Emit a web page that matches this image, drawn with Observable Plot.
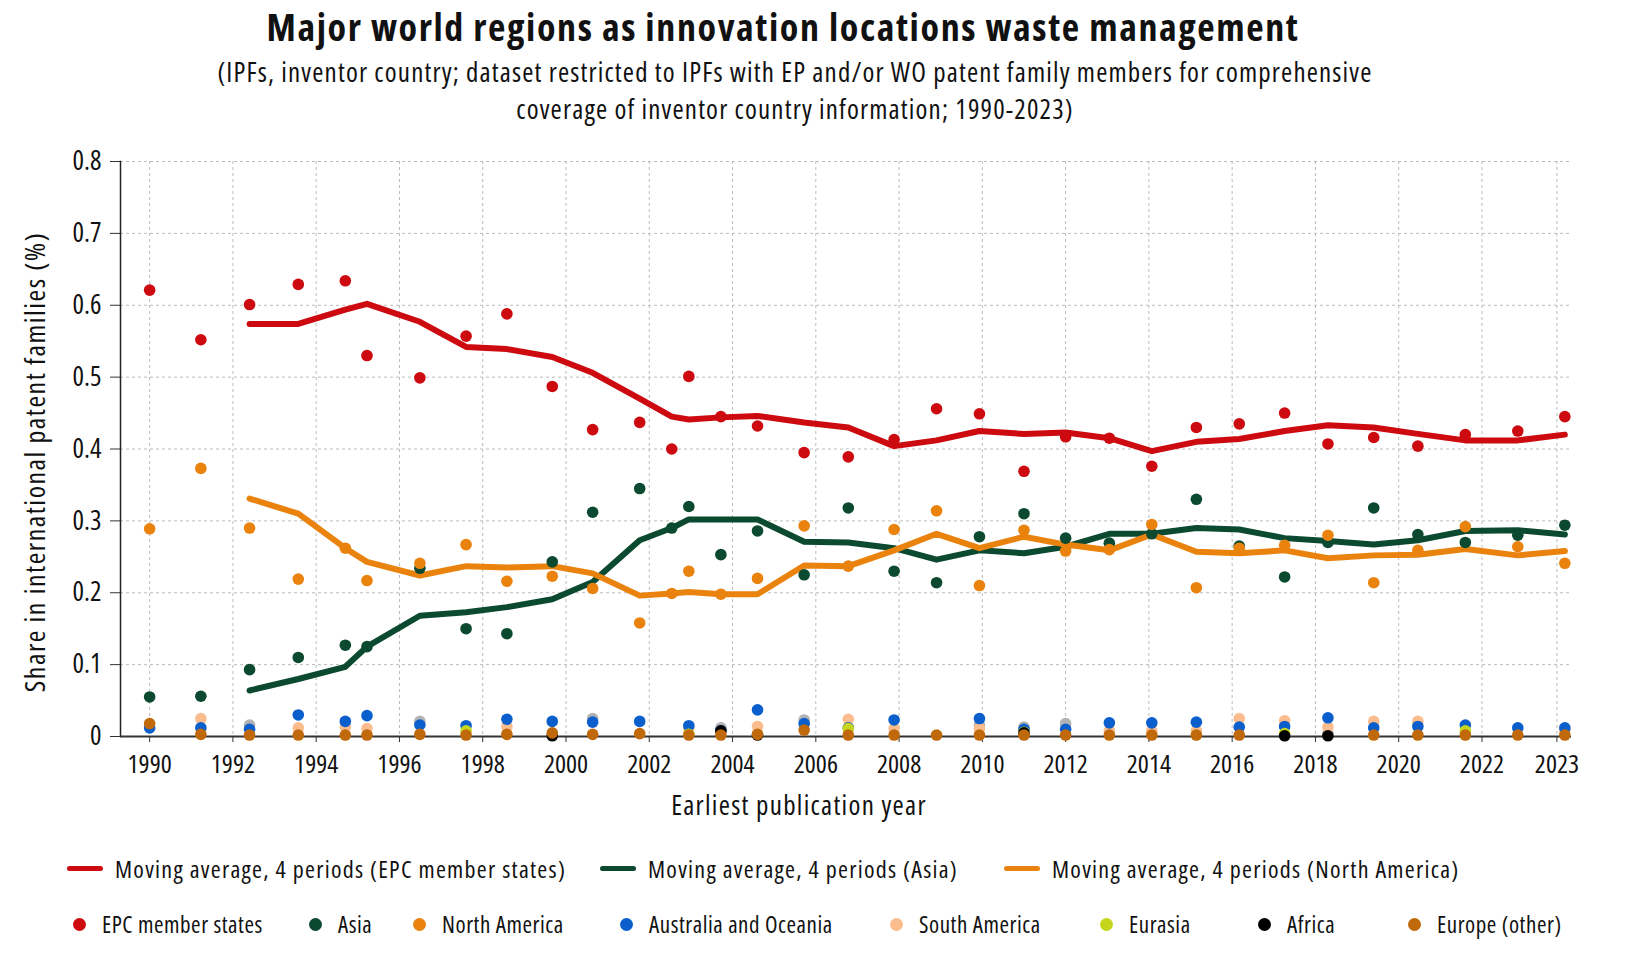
<!DOCTYPE html>
<html>
<head>
<meta charset="utf-8">
<script src="https://cdn.jsdelivr.net/npm/d3@7"></script>
<script src="https://cdn.jsdelivr.net/npm/@observablehq/plot@0.6"></script>
<style>
  body { margin: 0; background: #fff; }
  #wrap { position: relative; width: 1626px; height: 967px; font-family: "Open Sans", sans-serif; font-stretch: 75%; color: #111; }
  #title { position: absolute; left: 0; width: 1566px; top: 3px; text-align: center; font-weight: 700; font-size: 38px; line-height: 46px; letter-spacing: 1.6px; }
  #sub { position: absolute; left: 0; width: 1590px; top: 52.5px; text-align: center; font-size: 27px; line-height: 37px; letter-spacing: 1.15px; }
  #chart { position: absolute; left: 0; top: 140px; }
  #chart svg text { font-stretch: 75%; }
  #chart svg text.xlab { letter-spacing: 1.3px; }
  #chart svg text.ylab { letter-spacing: 1.5px; }
  .leg { position: absolute; display: flex; align-items: center; white-space: nowrap; }
  .leg .ln { width: 36px; height: 5px; border-radius: 3px; margin-right: 12px; }
  .leg .dt { width: 13px; height: 13px; border-radius: 50%; margin-right: 16px; }
  .row1 { font-size: 24px; top: 851px; height: 34px; letter-spacing: 1.27px; }
  .row2 { font-size: 23px; top: 907px; height: 34px; letter-spacing: 0.55px; }
</style>
</head>
<body>
<div id="wrap">
  <div id="title">Major world regions as innovation locations waste management</div>
  <div id="sub">(IPFs, inventor country; dataset restricted to IPFs with EP and/or WO patent family members for comprehensive<br>coverage of inventor country information; 1990-2023)</div>
  <div id="chart"></div>
  <div id="legend"></div>
</div>
<script>
// Earliest publication year, as placed along the axis in the picture
const years = [1990.0, 1991.23, 1992.40, 1993.57, 1994.7, 1995.22, 1996.49, 1997.6, 1998.58, 1999.67,
  2000.64, 2001.77, 2002.54, 2002.95, 2003.72, 2004.6, 2005.72, 2006.78, 2007.88, 2008.9,
  2009.93, 2011.0, 2012.0, 2013.05, 2014.07, 2015.14, 2016.17, 2017.26, 2018.3, 2019.4,
  2020.46, 2021.6, 2022.86, 2023.99];

// Shares per region
const epc = [0.621, 0.552, 0.601, 0.629, 0.634, 0.530, 0.499, 0.557, 0.588, 0.487, 0.427, 0.437, 0.400, 0.501, 0.445, 0.432, 0.395, 0.389, 0.413, 0.456, 0.449, 0.369, 0.417, 0.415, 0.376, 0.430, 0.435, 0.450, 0.407, 0.416, 0.404, 0.420, 0.425, 0.445];
const asia = [0.055, 0.056, 0.093, 0.110, 0.127, 0.125, 0.234, 0.150, 0.143, 0.243, 0.312, 0.345, 0.290, 0.320, 0.253, 0.286, 0.225, 0.318, 0.230, 0.214, 0.278, 0.310, 0.276, 0.269, 0.282, 0.330, 0.265, 0.222, 0.270, 0.318, 0.281, 0.270, 0.280, 0.294];
const northAmerica = [0.289, 0.373, 0.290, 0.219, 0.262, 0.217, 0.241, 0.267, 0.216, 0.223, 0.206, 0.158, 0.199, 0.230, 0.198, 0.220, 0.293, 0.237, 0.288, 0.314, 0.210, 0.287, 0.258, 0.260, 0.295, 0.207, 0.262, 0.266, 0.280, 0.214, 0.259, 0.292, 0.264, 0.241];
const oceania = [0.012, 0.012, 0.010, 0.030, 0.021, 0.029, 0.016, 0.015, 0.024, 0.021, 0.020, 0.021, null, 0.015, 0.008, 0.037, 0.018, 0.012, 0.023, null, 0.025, 0.010, 0.010, 0.019, 0.019, 0.020, 0.013, 0.014, 0.026, 0.012, 0.014, 0.016, 0.012, 0.012];
const southAmerica = [null, 0.025, null, 0.012, 0.013, 0.011, null, null, 0.014, null, null, null, null, 0.011, null, 0.014, null, 0.024, 0.011, null, 0.011, null, null, 0.008, 0.008, 0.008, 0.025, 0.022, 0.013, 0.021, 0.021, null, null, 0.008];
const eurasia = [null, null, null, null, null, null, null, 0.008, null, null, null, null, null, 0.003, null, null, null, 0.011, null, null, null, 0.006, null, null, null, null, null, 0.004, null, null, null, 0.008, null, null];
const africa = [null, null, null, null, null, null, null, null, null, 0.001, null, null, null, null, 0.008, 0.002, null, null, null, null, null, 0.005, null, null, null, null, null, 0.001, 0.001, null, null, null, null, null];
const europeOther = [0.018, 0.003, 0.002, 0.002, 0.002, 0.002, 0.003, 0.002, 0.003, 0.005, 0.003, 0.004, null, 0.002, 0.002, 0.003, 0.009, 0.002, 0.002, 0.002, 0.002, 0.002, 0.002, 0.002, 0.002, 0.002, 0.002, null, null, 0.002, 0.002, 0.002, 0.002, 0.002];
const unassigned = [null, null, 0.016, null, null, null, 0.021, null, null, null, 0.025, null, null, null, 0.012, null, 0.023, null, null, null, 0.016, 0.013, 0.018, null, null, null, null, null, 0.004, null, null, null, null, null];

// Moving averages, 4 periods
const epcMA = [null, null, 0.574, 0.574, 0.594, 0.602, 0.577, 0.542, 0.539, 0.528, 0.506, 0.470, 0.445, 0.441, 0.444, 0.446, 0.437, 0.430, 0.404, 0.412, 0.425, 0.421, 0.423, 0.415, 0.397, 0.410, 0.414, 0.425, 0.433, 0.430, 0.421, 0.412, 0.412, 0.420];
const asiaMA = [null, null, 0.064, 0.080, 0.097, 0.125, 0.168, 0.173, 0.180, 0.191, 0.215, 0.273, 0.290, 0.302, 0.302, 0.302, 0.271, 0.270, 0.262, 0.246, 0.259, 0.255, 0.264, 0.282, 0.282, 0.290, 0.288, 0.276, 0.272, 0.267, 0.273, 0.286, 0.287, 0.281];
const northAmericaMA = [null, null, 0.331, 0.310, 0.262, 0.243, 0.224, 0.237, 0.235, 0.237, 0.227, 0.196, 0.199, 0.201, 0.198, 0.198, 0.238, 0.237, 0.259, 0.282, 0.262, 0.278, 0.267, 0.259, 0.281, 0.257, 0.255, 0.259, 0.248, 0.252, 0.253, 0.261, 0.252, 0.258];

// Axis ticks
const xTickValues = [1990, 1992, 1994, 1996, 1998, 2000, 2002, 2004, 2006, 2008, 2010, 2012, 2014, 2016, 2018, 2020, 2022, 2023.8];
const xTickLabels = ["1990", "1992", "1994", "1996", "1998", "2000", "2002", "2004", "2006", "2008", "2010", "2012", "2014", "2016", "2018", "2020", "2022", "2023"];
const yTickValues = [0, 0.1, 0.2, 0.3, 0.4, 0.5, 0.6, 0.7, 0.8];
const yTickLabels = ["0", "0.1", "0.2", "0.3", "0.4", "0.5", "0.6", "0.7", "0.8"];

// Series names and colours
const lineNames = ["Moving average, 4 periods (EPC member states)", "Moving average, 4 periods (Asia)", "Moving average, 4 periods (North America)"];
const lineValues = [epcMA, asiaMA, northAmericaMA];
const lineColors = ["#cc0a0f", "#0b4a30", "#ea830e"];

const dotNames = ["EPC member states", "Asia", "North America", "Australia and Oceania", "South America", "Eurasia", "Africa", "Europe (other)"];
const dotValues = [epc, asia, northAmerica, oceania, southAmerica, eurasia, africa, europeOther];
const dotColors = ["#cc0a0f", "#0b4a30", "#ea830e", "#0b5fcc", "#fbbd8e", "#c5d61c", "#000000", "#c0690b"];
const drawOrder = [4, 3, 5, 6, 7, 1, 2, 0];

// Legend layout (left edge of each item, px)
const legendRow1Left = [67, 600, 1004];
const legendRow2Left = [73, 309, 413, 620, 890, 1100, 1258, 1408];

// Tables
const lineRows = [];
lineValues.forEach((vals, s) => vals.forEach((v, i) => { if (v != null) lineRows.push({series: lineNames[s], year: years[i], share: v}); }));
const dotRows = [];
unassigned.forEach((v, i) => { if (v != null) dotRows.push({series: "Unassigned", color: "#b3b3b3", year: years[i], share: v}); });
drawOrder.forEach(s => dotValues[s].forEach((v, i) => { if (v != null) dotRows.push({series: dotNames[s], color: dotColors[s], year: years[i], share: v}); }));

const xLabel = new Map(xTickValues.map((v, i) => [v, xTickLabels[i]]));
const yLabel = new Map(yTickValues.map((v, i) => [v, yTickLabels[i]]));

const chart = Plot.plot({
  width: 1626,
  height: 700,
  marginTop: 21,
  marginBottom: 104,
  marginLeft: 120,
  marginRight: 55,
  style: {fontFamily: "'Open Sans', sans-serif", fontSize: "26px", color: "#111", background: "transparent"},
  x: {domain: [1989.3, 2024.15]},
  y: {domain: [0, 0.8]},
  color: {domain: lineNames, range: lineColors},
  marks: [
    Plot.gridY(yTickValues, {stroke: "#bcbcbc", strokeOpacity: 1, strokeDasharray: "3,3"}),
    Plot.gridX(xTickValues, {stroke: "#bcbcbc", strokeOpacity: 1, strokeDasharray: "3,3"}),
    Plot.axisY(yTickValues, {tickFormat: d => yLabel.get(d), tickSize: 10, tickPadding: 9, fontSize: 27, label: null, stroke: "#333"}),
    Plot.axisX(xTickValues, {tickFormat: d => xLabel.get(d), tickSize: 6, tickPadding: 12, fontSize: 26, label: null, stroke: "#333"}),
    Plot.frame({anchor: "left", stroke: "#222", strokeWidth: 1.5}),
    Plot.ruleY([0], {stroke: "#333", strokeWidth: 2}),
    Plot.line(lineRows, {x: "year", y: "share", z: "series", stroke: "series", strokeWidth: 6, strokeLinejoin: "round", strokeLinecap: "round"}),
    Plot.dot(dotRows, {x: "year", y: "share", fill: "color", r: 5.8, stroke: null}),
    Plot.text(["Earliest publication year"], {frameAnchor: "bottom", dx: -47, dy: 70, fontSize: 27, lineAnchor: "middle", fill: "#111"}),
    Plot.text(["Share in international patent families (%)"], {frameAnchor: "left", rotate: -90, dx: -84, dy: 13, fontSize: 28, lineAnchor: "middle", textAnchor: "middle", fill: "#111"})
  ]
});
document.getElementById("chart").appendChild(chart);
// axis titles: slightly looser spacing than the tick labels
const titleNodes = d3.select(chart).selectAll('g[aria-label="text"] text').nodes();
if (titleNodes[0]) titleNodes[0].classList.add("xlab");
if (titleNodes[1]) titleNodes[1].classList.add("ylab");

// Legend
const legend = document.getElementById("legend");
lineNames.forEach((name, i) => {
  const d = document.createElement("div");
  d.className = "leg row1";
  d.style.left = legendRow1Left[i] + "px";
  d.innerHTML = `<span class="ln" style="background:${lineColors[i]}"></span><span>${name}</span>`;
  legend.appendChild(d);
});
dotNames.forEach((name, i) => {
  const d = document.createElement("div");
  d.className = "leg row2";
  d.style.left = legendRow2Left[i] + "px";
  d.innerHTML = `<span class="dt" style="background:${dotColors[i]}"></span><span>${name}</span>`;
  legend.appendChild(d);
});
</script>
</body>
</html>
